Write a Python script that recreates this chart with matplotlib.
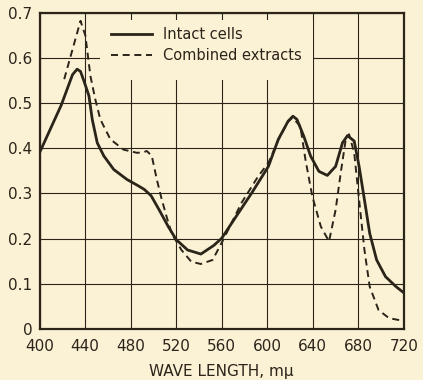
import matplotlib
matplotlib.use("Agg")
import matplotlib.pyplot as plt
from matplotlib.patches import Rectangle

# absorption spectra, read as (wavelength in m-mu, optical density)
intact_nm = [400, 419, 429, 433, 436, 439, 443.4, 446.3, 450.7, 456.5, 465.2, 476.8,
             486, 492, 498, 505, 513, 520, 530, 541.7, 553, 560, 574.7, 586.3,
             601, 609.7, 618.3, 622.5, 626, 632, 638, 645.3, 652.7, 660, 666,
             670.4, 676.3, 680.6, 685.3, 689.9, 696, 703.8, 713, 720]
intact_od = [0.39, 0.495, 0.563, 0.575, 0.570, 0.549, 0.516, 0.464, 0.412, 0.383, 0.353, 0.331,
             0.318, 0.309, 0.295, 0.264, 0.227, 0.198, 0.175, 0.166, 0.185, 0.201, 0.257, 0.301,
             0.36, 0.42, 0.46, 0.471, 0.464, 0.427, 0.383, 0.349, 0.34, 0.36, 0.412,
             0.428, 0.416, 0.36, 0.286, 0.212, 0.153, 0.116, 0.094, 0.08]

extract_nm = [421.7, 436, 440.3, 444.7, 449, 453.4, 462.2, 473.8, 485.5, 491, 494.2,
              498.6, 503, 507.4, 512, 516, 524.6, 533.3, 541.7, 552, 561.4, 577.3,
              592, 601, 610, 618, 622, 629, 633.5, 639.5, 647, 654.2, 660, 664.5,
              668.9, 671.8, 676.3, 680.6, 685.3, 689.9, 697.7, 707, 720]
extract_od = [0.553, 0.682, 0.649, 0.56, 0.508, 0.464, 0.42, 0.397, 0.39, 0.391, 0.394,
              0.383, 0.331, 0.286, 0.245, 0.212, 0.175, 0.149, 0.144, 0.153, 0.198, 0.279,
              0.338, 0.368, 0.42, 0.458, 0.468, 0.449, 0.375, 0.294, 0.227, 0.194, 0.264, 0.346,
              0.42, 0.431, 0.39, 0.286, 0.175, 0.094, 0.042, 0.024, 0.018]

x_ticks = [400, 440, 480, 520, 560, 600, 640, 680, 720]
y_ticks = [0, 0.1, 0.2, 0.3, 0.4, 0.5, 0.6, 0.7]
y_labels = ["0", "0.1", "0.2", "0.3", "0.4", "0.5", "0.6", "0.7"]

paper = "#fbf2d6"
ink = "#2a2419"

plt.rcParams["font.family"] = ["DejaVu Sans"]

fig = plt.figure(figsize=(4.23, 3.80), dpi=100, facecolor=paper)
ax = fig.add_axes([0.0934, 0.134, 0.8616, 0.8326], facecolor=paper)

ax.set_xlim(400, 720)
ax.set_ylim(0, 0.7)
ax.set_xticks(x_ticks)
ax.set_yticks(y_ticks)
ax.set_yticklabels(y_labels)
ax.tick_params(length=0, labelsize=11, colors=ink)
ax.tick_params(axis="x", pad=7)
ax.tick_params(axis="y", pad=5)
ax.grid(True, color=ink, linewidth=0.8)
ax.set_axisbelow(True)
for s in ax.spines.values():
    s.set_color(ink)
    s.set_linewidth(1.6)

# blank area behind the key, leaving short stubs of the grid at the top
ax.add_patch(Rectangle((0.166, 0.787), 0.584, 0.19, transform=ax.transAxes,
                       facecolor=paper, edgecolor="none", zorder=1.5))

ax.plot(intact_nm, intact_od, color=ink, linewidth=2.0, label="Intact cells", zorder=3)
ax.plot(extract_nm, extract_od, color=ink, linewidth=1.4, linestyle=(0, (3.6, 2.4)),
        label="Combined extracts", zorder=3)

leg = ax.legend(loc="upper left", bbox_to_anchor=(0.16, 0.995), frameon=False,
                fontsize=10.5, handlelength=2.8, handletextpad=0.8, labelspacing=0.4)
for t in leg.get_texts():
    t.set_color(ink)

ax.set_xlabel("WAVE LENGTH, m\u03bc", fontsize=11, color=ink, labelpad=7)

fig.savefig("out.png", dpi=100, facecolor=paper)
